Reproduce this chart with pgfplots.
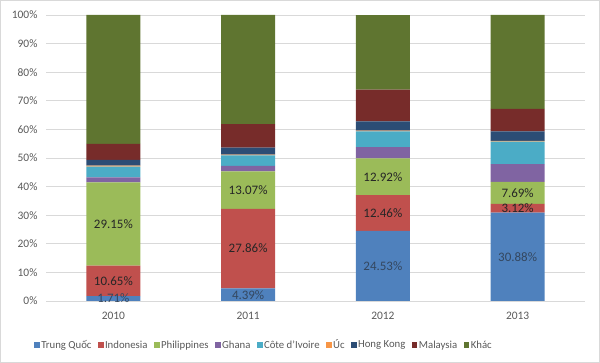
\documentclass[border=0pt]{standalone}
\usepackage{fontspec}
\setmainfont{Carlito}
\usepackage{pgfplots}
\pgfplotsset{compat=1.18}
\definecolor{cBlue}{HTML}{4F81BD}
\definecolor{cRed}{HTML}{C0504D}
\definecolor{cGreen}{HTML}{9BBB59}
\definecolor{cPurple}{HTML}{8064A2}
\definecolor{cCyan}{HTML}{4BACC6}
\definecolor{cOrange}{HTML}{F79646}
\definecolor{cHK}{HTML}{2C4D75}
\definecolor{cMY}{HTML}{772C2A}
\definecolor{cOther}{HTML}{5F7530}
\definecolor{txtGray}{HTML}{595959}
\definecolor{gridGray}{HTML}{D9D9D9}
\definecolor{lblBlue}{HTML}{34475F}
\begin{document}
\begin{tikzpicture}
\path[use as bounding box] (0,0) rectangle (600bp,363bp);
\draw[gridGray, line width=1bp] (0.5bp,0.5bp) rectangle (599.5bp,362.5bp);
\begin{axis}[
  at={(46bp,62bp)}, anchor=south west,
  scale only axis, width=539bp, height=286bp,
  ybar stacked, bar width=54bp,
  xmin=-0.5, xmax=3.5, ymin=0, ymax=100,
  xtick={0,1,2,3}, xticklabels={2010,2011,2012,2013},
  ytick={0,10,...,100},
  yticklabels={0\%,10\%,20\%,30\%,40\%,50\%,60\%,70\%,80\%,90\%,100\%},
  major tick length=0pt,
  axis line style={draw=none},
  ymajorgrids, grid style={gridGray, line width=0.8bp},
  tick label style={font=\fontsize{11.5}{13}\selectfont, text=txtGray},
  yticklabel style={xshift=-5bp},
  xticklabel style={yshift=-8bp},
  legend columns=9,
  legend style={at={(axis description cs:0.404,-0.154)}, anchor=center, draw=none, fill=none,
    font=\fontsize{10.8}{12}\selectfont, text=txtGray,
    /tikz/every even column/.append style={column sep=5bp},
    nodes={inner sep=1.5bp}},
  legend image code/.code={\fill[#1] (0bp,-2.75bp) rectangle (5.5bp,2.75bp);},
  every axis plot/.append style={draw=none},
]
\addplot[fill=cBlue] coordinates {(0,1.71) (1,4.39) (2,24.53) (3,30.88)};
\addplot[fill=cRed] coordinates {(0,10.65) (1,27.86) (2,12.46) (3,3.12)};
\addplot[fill=cGreen] coordinates {(0,29.15) (1,13.07) (2,12.92) (3,7.69)};
\addplot[fill=cPurple] coordinates {(0,1.7) (1,1.9) (2,3.9) (3,6.2)};
\addplot[fill=cCyan] coordinates {(0,3.8) (1,3.7) (2,5.5) (3,7.8)};
\addplot[fill=cOrange] coordinates {(0,0.3) (1,0.3) (2,0.3) (3,0.3)};
\addplot[fill=cHK] coordinates {(0,2.0) (1,2.4) (2,3.2) (3,3.3)};
\addplot[fill=cMY] coordinates {(0,5.6) (1,8.2) (2,11.1) (3,7.9)};
\addplot[fill=cOther] coordinates {(0,45.09) (1,38.18) (2,26.07) (3,32.81)};
\legend{Trung Quốc,Indonesia,Philippines,Ghana,Côte d'Ivoire,Úc,Hong Kong,Malaysia,Khác}
\end{axis}
\begin{axis}[
  at={(46bp,62bp)}, anchor=south west,
  scale only axis, width=539bp, height=286bp,
  xmin=-0.5, xmax=3.5, ymin=0, ymax=100,
  hide axis, clip=false,
  nodes near coords, point meta=explicit symbolic,
  nodes near coords align=center,
]
\addplot[only marks, mark=none, nodes near coords style={font=\fontsize{13}{15}\selectfont, text=lblBlue}]
  coordinates {(0,0.855) [1.71\%] (1,2.195) [4.39\%] (2,12.265) [24.53\%] (3,15.44) [30.88\%]};
\addplot[only marks, mark=none, nodes near coords style={font=\fontsize{13}{15}\selectfont, text=black!85}]
  coordinates {(0,7.035) [10.65\%] (1,18.32) [27.86\%] (2,30.76) [12.46\%] (3,32.44) [3.12\%]
               (0,26.935) [29.15\%] (1,38.785) [13.07\%] (2,43.45) [12.92\%] (3,37.845) [7.69\%]};
\end{axis}
\end{tikzpicture}
\end{document}
